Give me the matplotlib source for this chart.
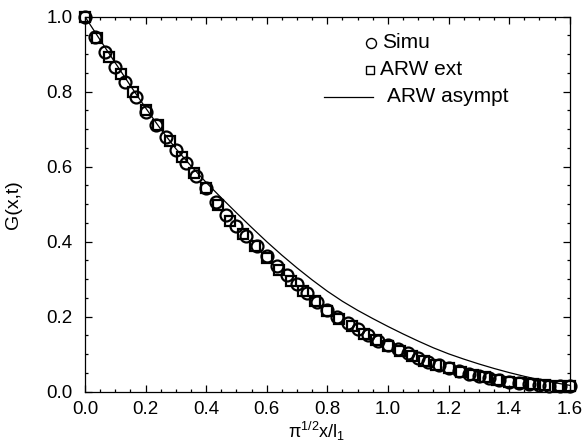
import matplotlib

matplotlib.use("Agg")
import matplotlib.pyplot as plt
from matplotlib.ticker import MultipleLocator

plt.rcParams["font.family"] = ["Liberation Sans", "DejaVu Sans"]
plt.rcParams["mathtext.fontset"] = "custom"
plt.rcParams["mathtext.rm"] = "Liberation Sans"
plt.rcParams["mathtext.it"] = "Liberation Sans"

# Simulation (circles)
simu_x = [
    0.000, 0.033, 0.067, 0.100, 0.133, 0.167, 0.200, 0.233, 0.267, 0.300,
    0.333, 0.367, 0.400, 0.433, 0.467, 0.500, 0.533, 0.567, 0.600, 0.633,
    0.667, 0.700, 0.733, 0.767, 0.800, 0.833, 0.867, 0.900, 0.933, 0.967,
    1.000, 1.033, 1.067, 1.100, 1.133, 1.167, 1.200, 1.233, 1.267, 1.300,
    1.333, 1.367, 1.400, 1.433, 1.467, 1.500, 1.533, 1.567, 1.600,
]
simu_g = [
    1.000, 0.945, 0.905, 0.865, 0.827, 0.785, 0.745, 0.712, 0.680, 0.645,
    0.610, 0.576, 0.543, 0.505, 0.472, 0.443, 0.415, 0.388, 0.362, 0.335,
    0.310, 0.287, 0.262, 0.240, 0.218, 0.200, 0.183, 0.166, 0.150, 0.136,
    0.124, 0.113, 0.103, 0.090, 0.080, 0.071, 0.063, 0.055, 0.047, 0.041,
    0.036, 0.031, 0.027, 0.023, 0.020, 0.018, 0.016, 0.015, 0.015,
]

# ARW extended (squares)
arw_ext_x = [
    0.00, 0.04, 0.08, 0.12, 0.16, 0.20, 0.24, 0.28, 0.32, 0.36,
    0.40, 0.44, 0.48, 0.52, 0.56, 0.60, 0.64, 0.68, 0.72, 0.76,
    0.80, 0.84, 0.88, 0.92, 0.96, 1.00, 1.04, 1.08, 1.12, 1.16,
    1.20, 1.24, 1.28, 1.32, 1.36, 1.40, 1.44, 1.48, 1.52, 1.56, 1.60,
]
arw_ext_g = [
    1.000, 0.943, 0.893, 0.848, 0.798, 0.750, 0.710, 0.668, 0.626, 0.584,
    0.543, 0.497, 0.456, 0.421, 0.388, 0.356, 0.325, 0.296, 0.268, 0.241,
    0.216, 0.194, 0.174, 0.155, 0.138, 0.122, 0.108, 0.095, 0.083, 0.072,
    0.062, 0.053, 0.045, 0.038, 0.032, 0.027, 0.023, 0.020, 0.017, 0.015, 0.014,
]

# ARW asymptotic (solid line)
asympt_x = [
    0.00, 0.05, 0.10, 0.15, 0.20, 0.25, 0.30, 0.35, 0.40, 0.45,
    0.50, 0.55, 0.60, 0.65, 0.70, 0.75, 0.80, 0.85, 0.90, 0.95,
    1.00, 1.05, 1.10, 1.15, 1.20, 1.25, 1.30, 1.35, 1.40, 1.45,
    1.50, 1.55, 1.60,
]
asympt_g = [
    1.000, 0.938, 0.877, 0.816, 0.757, 0.700, 0.648, 0.602, 0.558, 0.517,
    0.477, 0.438, 0.400, 0.364, 0.330, 0.298, 0.268, 0.241, 0.217, 0.195,
    0.174, 0.154, 0.135, 0.117, 0.101, 0.087, 0.074, 0.062, 0.051, 0.041,
    0.032, 0.024, 0.017,
]

fig = plt.figure(figsize=(5.84, 4.48), dpi=100)
ax = fig.add_axes([0.1455, 0.1257, 0.830, 0.837])

ax.plot(asympt_x, asympt_g, color="black", linewidth=0.9, zorder=2)
ax.plot(arw_ext_x, arw_ext_g, linestyle="none", marker="s", markersize=7.6,
        markerfacecolor="none", markeredgecolor="black", markeredgewidth=1.6,
        zorder=3, clip_on=False)
ax.plot(simu_x, simu_g, linestyle="none", marker="o", markersize=8.6,
        markerfacecolor="none", markeredgecolor="black", markeredgewidth=1.6,
        zorder=4, clip_on=False)

ax.set_xlim(0.0, 1.6)
ax.set_ylim(0.0, 1.0)
ax.xaxis.set_major_locator(MultipleLocator(0.2))
ax.xaxis.set_minor_locator(MultipleLocator(0.05))
ax.yaxis.set_major_locator(MultipleLocator(0.2))
ax.yaxis.set_minor_locator(MultipleLocator(0.05))
ax.xaxis.set_major_formatter(plt.FormatStrFormatter("%.1f"))
ax.yaxis.set_major_formatter(plt.FormatStrFormatter("%.1f"))
ax.tick_params(which="both", direction="in", top=True, right=True,
               labelsize=13.5, width=0.9)
ax.tick_params(which="major", length=5)
ax.tick_params(which="minor", length=2.5)
ax.tick_params(axis="x", which="major", pad=7)
ax.tick_params(axis="y", which="major", pad=9)
for spine in ax.spines.values():
    spine.set_linewidth(0.9)

ax.set_xlabel(r"$\mathrm{\pi^{1/2}x/l_1}$", fontsize=13)
ax.xaxis.set_label_coords(0.478, -0.075)
ax.set_ylabel("G(x,t)", fontsize=14)
ax.yaxis.set_label_coords(-0.129, 0.498)

# legend drawn in axes coordinates to keep the original layout
tr = ax.transAxes
ax.plot([0.591], [0.930], transform=tr, marker="o", markersize=7.2,
        markerfacecolor="none", markeredgecolor="black", markeredgewidth=1.0,
        clip_on=False)
ax.text(0.612, 0.930, "Simu", transform=tr, fontsize=15, va="center", ha="left")
ax.plot([0.589], [0.858], transform=tr, marker="s", markersize=6.4,
        markerfacecolor="none", markeredgecolor="black", markeredgewidth=1.0,
        clip_on=False)
ax.text(0.608, 0.858, "ARW ext", transform=tr, fontsize=15, va="center", ha="left")
ax.plot([0.493, 0.595], [0.786, 0.786], transform=tr, color="black",
        linewidth=0.9, clip_on=False)
ax.text(0.624, 0.786, "ARW asympt", transform=tr, fontsize=15, va="center", ha="left")

fig.savefig("out.png", dpi=100)
